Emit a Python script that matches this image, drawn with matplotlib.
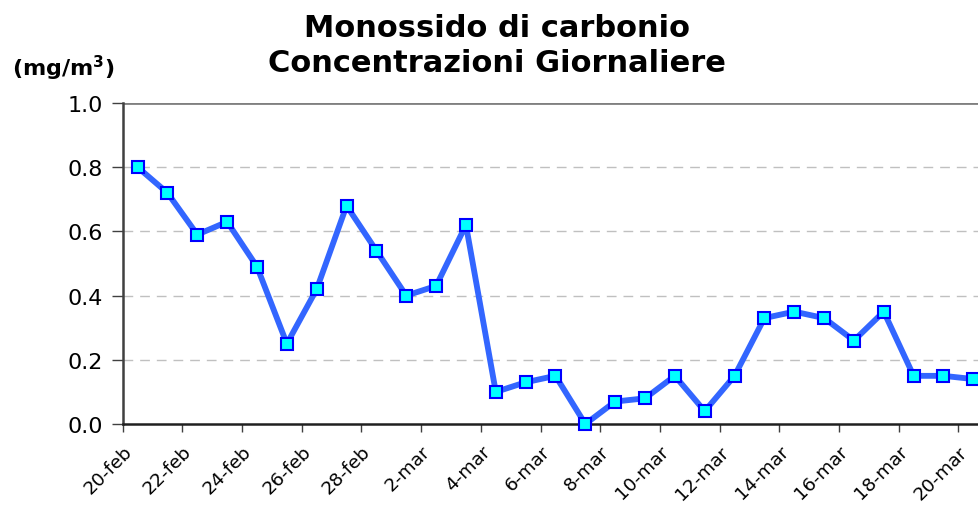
import numpy as np
import pandas as pd
import matplotlib
matplotlib.use("Agg")
import matplotlib.pyplot as plt

# concentrazioni giornaliere CO (mg/m3), dal 20-feb al 20-mar
dates = pd.date_range("2009-02-20", "2009-03-20", freq="D")
mesi = ["gen", "feb", "mar"]
labels = [f"{d.day}-{mesi[d.month - 1]}" for d in dates]
co = [0.80, 0.72, 0.59, 0.63, 0.49, 0.25, 0.42, 0.68, 0.54, 0.40,
      0.43, 0.62, 0.10, 0.13, 0.15, 0.00, 0.07, 0.08, 0.15, 0.04,
      0.15, 0.33, 0.35, 0.33, 0.26, 0.35, 0.15, 0.15, 0.14]
yticks = [0.0, 0.2, 0.4, 0.6, 0.8, 1.0]

W, H = 979, 506
fig = plt.figure(figsize=(W / 100, H / 100), dpi=100)
ax = fig.add_axes([122.7 / W, 81 / H, 1 - 122.7 / W, 321 / H])

x = np.arange(len(co))
ax.plot(x, co, color="#3366FF", lw=4.2, marker="s", ms=8.5,
        mfc="#00FFFF", mec="#0000FF", mew=1.5, zorder=3, clip_on=False)

ax.set_xlim(-0.5, 28.19)
ax.set_ylim(0, 1.0)

# griglia orizzontale tratteggiata
for v in yticks[1:-1]:
    ax.axhline(v, color="#C0C0C0", lw=1, ls=(0, (7, 5)), zorder=1)
ax.axhline(1.0, color="#808080", lw=2, zorder=1)

ax.set_yticks(yticks)
ax.set_yticklabels([f"{v:.1f}" for v in yticks], fontsize=16)
ax.set_xticks(x[::2] - 0.5)
ax.set_xticklabels(labels[::2], rotation=45, ha="right",
                   rotation_mode="anchor", fontsize=13.3)
ax.tick_params(axis="y", length=8, width=1, color="#404040", pad=6)
ax.tick_params(axis="x", length=6, width=1, color="#404040", pad=7)

for s in ["top", "right"]:
    ax.spines[s].set_visible(False)
ax.spines["left"].set_linewidth(1.8)
ax.spines["left"].set_color("#404040")
ax.spines["bottom"].set_linewidth(1.8)
ax.spines["bottom"].set_color("#202020")

fig.text(497 / W, 1 - 46 / H, "Monossido di carbonio\nConcentrazioni Giornaliere",
         ha="center", va="center", fontsize=22, fontweight="bold",
         linespacing=1.3)
fig.text(63 / W, 1 - 68 / H, "(mg/m$^\\mathbf{3}$)", ha="center", va="center",
         fontsize=16, fontweight="bold")

fig.savefig("out.png", dpi=100)
